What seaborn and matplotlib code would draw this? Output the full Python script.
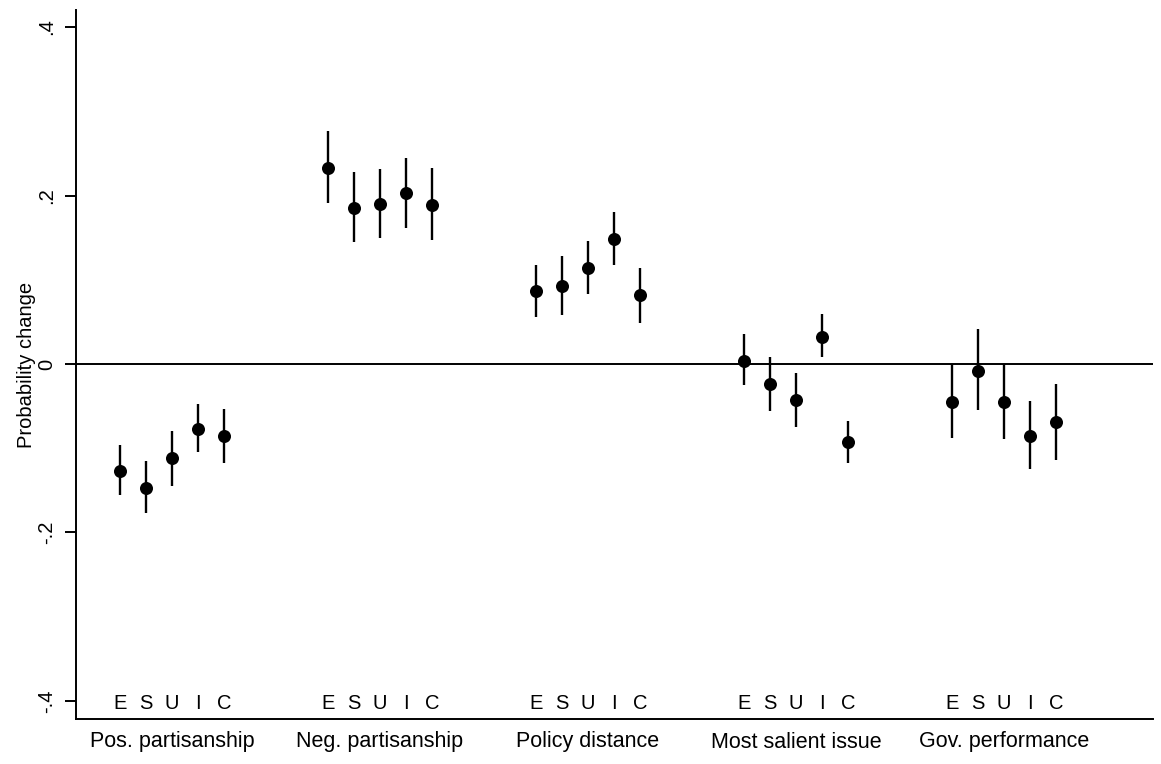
import numpy as np
import pandas as pd
import matplotlib
matplotlib.use("Agg")
import matplotlib.pyplot as plt
import matplotlib.transforms as mtransforms
import seaborn as sns

# ---- data ----
groups = ["Pos. partisanship", "Neg. partisanship", "Policy distance",
          "Most salient issue", "Gov. performance"]
models = ["E", "S", "U", "I", "C"]

est_pos = [-0.127, -0.147, -0.112, -0.077, -0.086]
lo_pos  = [-0.156, -0.177, -0.145, -0.104, -0.117]
hi_pos  = [-0.096, -0.115, -0.079, -0.048, -0.053]

est_neg = [0.233, 0.185, 0.190, 0.203, 0.189]
lo_neg  = [0.191, 0.145, 0.150, 0.162, 0.147]
hi_neg  = [0.276, 0.228, 0.231, 0.245, 0.233]

est_pol = [0.087, 0.093, 0.114, 0.148, 0.082]
lo_pol  = [0.056, 0.058, 0.083, 0.117, 0.049]
hi_pol  = [0.117, 0.128, 0.146, 0.181, 0.114]

est_sal = [0.004, -0.024, -0.043, 0.032, -0.093]
lo_sal  = [-0.025, -0.056, -0.075, 0.008, -0.117]
hi_sal  = [0.036, 0.008, -0.011, 0.059, -0.068]

est_gov = [-0.045, -0.008, -0.045, -0.085, -0.069]
lo_gov  = [-0.088, -0.055, -0.089, -0.125, -0.114]
hi_gov  = [0.000, 0.042, 0.000, -0.044, -0.024]

estimates = [est_pos, est_neg, est_pol, est_sal, est_gov]
lows = [lo_pos, lo_neg, lo_pol, lo_sal, lo_gov]
highs = [hi_pos, hi_neg, hi_pol, hi_sal, hi_gov]

yticks = [-0.4, -0.2, 0.0, 0.2, 0.4]
yticklabels = ["-.4", "-.2", "0", ".2", ".4"]

# ---- build table ----
rows = []
for g, grp in enumerate(groups):
    for i, m in enumerate(models):
        rows.append(dict(group=grp, model=m, pos=8 * g + i,
                         est=estimates[g][i], lo=lows[g][i], hi=highs[g][i]))
df = pd.DataFrame(rows)

# ---- plot ----
sns.set_style("white")
plt.rcParams["font.family"] = ["Liberation Sans", "DejaVu Sans"]
plt.rcParams["text.color"] = "black"
plt.rcParams["axes.labelcolor"] = "black"
plt.rcParams["xtick.color"] = "black"
plt.rcParams["ytick.color"] = "black"

fig = plt.figure(figsize=(11.61, 7.64), dpi=100)
ax = fig.add_axes([76 / 1161, 1 - 719 / 764, (1153 - 76) / 1161, (719 - 10) / 764])

ax.axhline(0, color="black", lw=1.4, zorder=1)
ax.vlines(df["pos"], df["lo"], df["hi"], color="black", lw=1.7, zorder=2)
sns.scatterplot(data=df, x="pos", y="est", ax=ax, color="black", s=88,
                edgecolor="black", linewidth=0, zorder=3, legend=False)

ax.set_xlim(-1.69, 39.73)
ax.set_ylim(-0.4214, 0.4202)

ax.set_yticks(yticks)
ax.set_yticklabels(yticklabels, rotation=90, va="center", fontsize=14.5)
ax.tick_params(axis="y", length=8, width=1.4, pad=6, colors="black",
               left=True, direction="out")

centers = [8 * g + 2 for g in range(len(groups))]
ax.set_xticks(centers)
ax.set_xticklabels(groups, fontsize=15.5)
ax.tick_params(axis="x", length=0, pad=9, colors="black")

trans = mtransforms.blended_transform_factory(ax.transData, ax.transAxes)
for p, m in zip(df["pos"], df["model"]):
    ax.text(p, 0.0225, m, transform=trans, ha="center", va="center",
            fontsize=14.5, color="black")

ax.set_xlabel("")
ax.set_ylabel("Probability change", fontsize=14.5, labelpad=1, color="black")

for side in ["top", "right"]:
    ax.spines[side].set_visible(False)
for side in ["left", "bottom"]:
    ax.spines[side].set_color("black")
    ax.spines[side].set_linewidth(1.4)

fig.savefig("out.png", dpi=100, facecolor="white")
